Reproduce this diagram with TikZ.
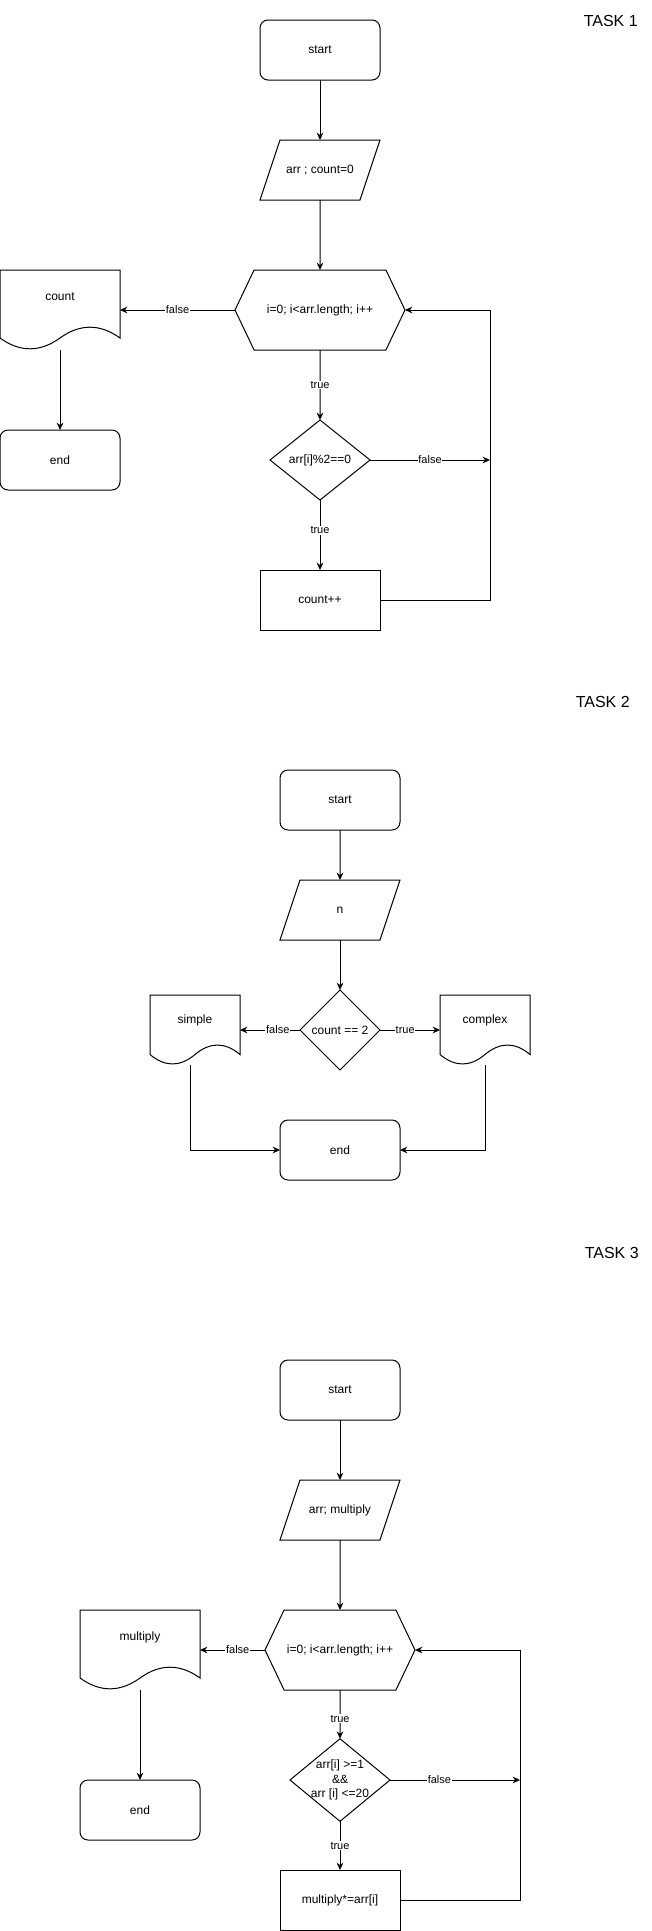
\documentclass[tikz,border=0pt]{standalone}
\usepackage{fontspec}
\setmainfont{Liberation Sans}
\usepackage{tikz}
\usetikzlibrary{shapes.geometric, shapes.symbols, arrows.meta, positioning, calc}
\tikzset{
  basebox/.style={draw, line width=0.75pt, align=center,
                  font=\fontsize{9}{11}\selectfont, inner sep=2pt, outer sep=0pt},
  termnode/.style={basebox, rectangle, rounded corners=6pt,
                   minimum width=90pt, minimum height=45pt},
  ionode/.style={basebox, trapezium, trapezium left angle=71.57,
                 trapezium right angle=108.43, trapezium stretches body=true,
                 text height=6.5pt, text depth=2pt, inner ysep=18.25pt,
                 minimum width=90pt},
  loopnode/.style={basebox, signal, signal to=west and east,
                   signal pointer angle=129, minimum height=60pt},
  decisionnode/.style={basebox, diamond, inner sep=0pt,
                       minimum width=75pt, minimum height=60pt},
  procnode/.style={basebox, rectangle, minimum width=90pt, minimum height=45pt},
  docnode/.style={rectangle, align=center, font=\fontsize{9}{11}\selectfont,
                  minimum width=90pt, minimum height=60pt, outer sep=0pt,
                  text height=7pt, text depth=21pt,
    append after command={\pgfextra{
      \draw[line width=0.75pt]
        let \p1=(\tikzlastnode.north west), \p2=(\tikzlastnode.south east),
            \p3=($(\p2)-(\p1)$) in
        (\p1) -- (\x2,\y1) -- (\x2,\y1+0.85*\y3)
        .. controls (\x1+0.8333*\x3,\y1+0.67*\y3) and (\x1+0.6667*\x3,\y1+0.67*\y3)
        .. (\x1+0.5*\x3,\y1+0.85*\y3)
        .. controls (\x1+0.3333*\x3,\y1+1.03*\y3) and (\x1+0.1667*\x3,\y1+1.03*\y3)
        .. (\x1,\y1+0.85*\y3) -- cycle;}}},
  arrow/.style={-{Stealth[length=5.5pt, width=5pt]}, line width=0.75pt},
  edgelabel/.style={font=\fontsize{8.25}{10}\selectfont, fill=white, inner sep=0.6pt},
  tasktitle/.style={font=\fontsize{12}{14}\selectfont, anchor=base east, inner sep=0pt}
}
\begin{document}
\begin{tikzpicture}[x=0.75pt, y=-0.75pt, on grid]
  \useasboundingbox (0,0) rectangle (651,1931);

  % ── Task 1 ──
  \node[tasktitle] (task1) at (638,26.7) {TASK 1};
  \node[termnode] (start1) at (320,50) {start};
  \node[ionode, below=90pt of start1] (input1) {arr ; count=0};
  \node[loopnode, minimum width=127.5pt, below=105pt of input1] (loop1)
      {i=0; i<arr.length; i++};
  \node[decisionnode, below=112.5pt of loop1] (cond1) {arr[i]\%2==0};
  \node[procnode, below=105pt of cond1] (inc1) {count++};
  \node[docnode, left=195pt of loop1] (out1) {count};
  \node[termnode, below=112.5pt of out1] (end1) {end};
  \coordinate (back1) at ($(inc1.east)+(82.5pt,0)$);

  \draw[arrow] (start1) -- (input1);
  \draw[arrow] (input1) -- (loop1);
  \draw[arrow] (loop1.west) -- node[edgelabel]{false} (out1.east);
  \draw[arrow] (out1) -- (end1);
  \draw[arrow] (loop1) -- node[edgelabel]{true} (cond1);
  \draw[arrow] (cond1.east) -- node[edgelabel]{false} (cond1.east -| back1);
  \draw[arrow] (cond1) -- node[edgelabel, pos=0.43]{true} (inc1);
  \draw[arrow] (inc1.east) -- (back1) |- (loop1.east);

  % ── Task 2 ──
  \node[tasktitle] (task2) at (630,707) {TASK 2};
  \node[termnode] (start2) at (340,800) {start};
  \node[ionode, below=82.5pt of start2] (input2) {n};
  \node[decisionnode, minimum width=60pt, below=90pt of input2] (cond2) {count == 2};
  \node[docnode, minimum width=67.5pt, minimum height=52.5pt, text depth=17.5pt,
        left=108.75pt of cond2] (simple2) {simple};
  \node[docnode, minimum width=67.5pt, minimum height=52.5pt, text depth=17.5pt,
        right=108.75pt of cond2] (complex2) {complex};
  \node[termnode, below=90pt of cond2] (end2) {end};

  \draw[arrow] (start2) -- (input2);
  \draw[arrow] (input2) -- (cond2);
  \draw[arrow] (cond2.west) -- node[edgelabel, pos=0.37]{false} (simple2.east);
  \draw[arrow] (cond2.east) -- node[edgelabel, pos=0.42]{true} (complex2.west);
  \draw[arrow] ([xshift=-3.4pt]simple2.south) |- (end2.west);
  \draw[arrow] (complex2.south) |- (end2.east);

  % ── Task 3 ──
  \node[tasktitle] (task3) at (639,1258.5) {TASK 3};
  \node[termnode] (start3) at (340,1390) {start};
  \node[ionode, below=90pt of start3] (input3) {arr; multiply};
  \node[loopnode, minimum width=112.5pt, below=105pt of input3] (loop3)
      {i=0; i<arr.length; i++};
  \node[decisionnode, inner xsep=-6pt, below=97.5pt of loop3] (cond3)
      {arr[i] >=1\\\&\&\\arr [i] <=20};
  \node[procnode, below=90pt of cond3] (mul3) {multiply*=arr[i]};
  \node[docnode, left=150pt of loop3] (out3) {multiply};
  \node[termnode, below=120pt of out3] (end3) {end};
  \coordinate (back3) at ($(mul3.east)+(90pt,0)$);

  \draw[arrow] (start3) -- (input3);
  \draw[arrow] (input3) -- (loop3);
  \draw[arrow] (loop3.west) -- node[edgelabel, pos=0.42]{false} (out3.east);
  \draw[arrow] (out3) -- (end3);
  \draw[arrow] (loop3) -- node[edgelabel, pos=0.59]{true} (cond3);
  \draw[arrow] (cond3.east) -- node[edgelabel, pos=0.38]{false} (cond3.east -| back3);
  \draw[arrow] (cond3) -- node[edgelabel]{true} (mul3);
  \draw[arrow] (mul3.east) -- (back3) |- (loop3.east);

\end{tikzpicture}
\end{document}
